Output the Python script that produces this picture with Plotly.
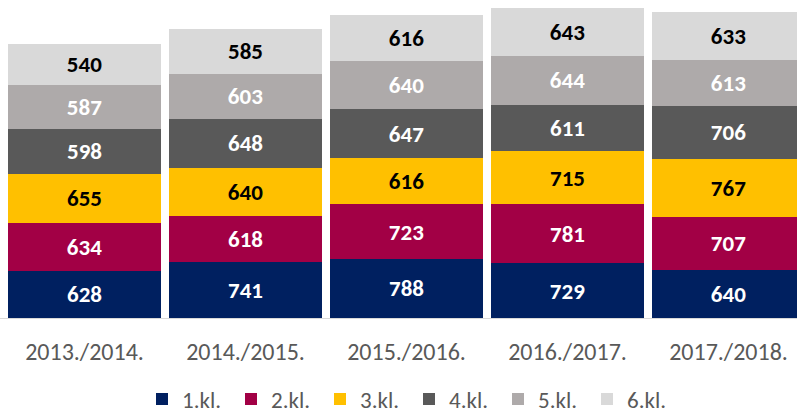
import plotly.graph_objects as go

categories = ["2013./2014.", "2014./2015.", "2015./2016.", "2016./2017.", "2017./2018."]
series_names = ["1.kl.", "2.kl.", "3.kl.", "4.kl.", "5.kl.", "6.kl."]
kl1 = [628, 741, 788, 729, 640]
kl2 = [634, 618, 723, 781, 707]
kl3 = [655, 640, 616, 715, 767]
kl4 = [598, 648, 647, 611, 706]
kl5 = [587, 603, 640, 644, 613]
kl6 = [540, 585, 616, 643, 633]

series_values = [kl1, kl2, kl3, kl4, kl5, kl6]
colors = ["#002060", "#A20045", "#FFC000", "#595959", "#AEAAAA", "#D9D9D9"]
label_colors = ["white", "white", "black", "white", "white", "black"]

FONT = "Calibri, Carlito, Lato, sans-serif"

fig = go.Figure()
for name, vals, col, lc in zip(series_names, series_values, colors, label_colors):
    fig.add_trace(go.Bar(
        x=list(range(len(categories))), y=vals, name=name,
        marker=dict(color=col, line=dict(width=0)),
        width=0.95,
        text=[str(v) for v in vals],
        textposition="inside", insidetextanchor="middle", textangle=0,
        insidetextfont=dict(family=FONT, size=23, color=lc, weight="bold"),
        hoverinfo="skip",
    ))

x0 = -84.5 / 161
x1 = (797 - 84.5) / 161
fig.update_layout(
    barmode="stack",
    width=797, height=408,
    margin=dict(l=0, r=0, t=0, b=90, autoexpand=False),
    paper_bgcolor="white", plot_bgcolor="white",
    font=dict(family=FONT, color="#595959"),
    uniformtext=dict(minsize=23, mode="show"),
    xaxis=dict(
        range=[x0, x1], tickmode="array", tickvals=list(range(len(categories))),
        ticktext=categories, showgrid=False, zeroline=False,
        showline=True, linecolor="#D9D9D9", linewidth=1,
        ticks="", ticklabelstandoff=12,
        tickfont=dict(family=FONT, size=24, color="#595959"),
    ),
    yaxis=dict(range=[0, 318 / 0.07523], visible=False, showgrid=False, zeroline=False),
    showlegend=True,
    legend=dict(
        orientation="h", x=142 / 797, xanchor="left", y=-81 / 318, yanchor="middle",
        font=dict(family=FONT, size=23, color="#595959"),
        traceorder="normal", entrywidth=44, entrywidthmode="pixels",
        bgcolor="rgba(0,0,0,0)",
    ),
)

fig.write_html(
    "out.html",
    config={"displayModeBar": False, "staticPlot": True},
    post_script="document.body.style.margin='0';document.body.style.overflow='hidden';",
)
